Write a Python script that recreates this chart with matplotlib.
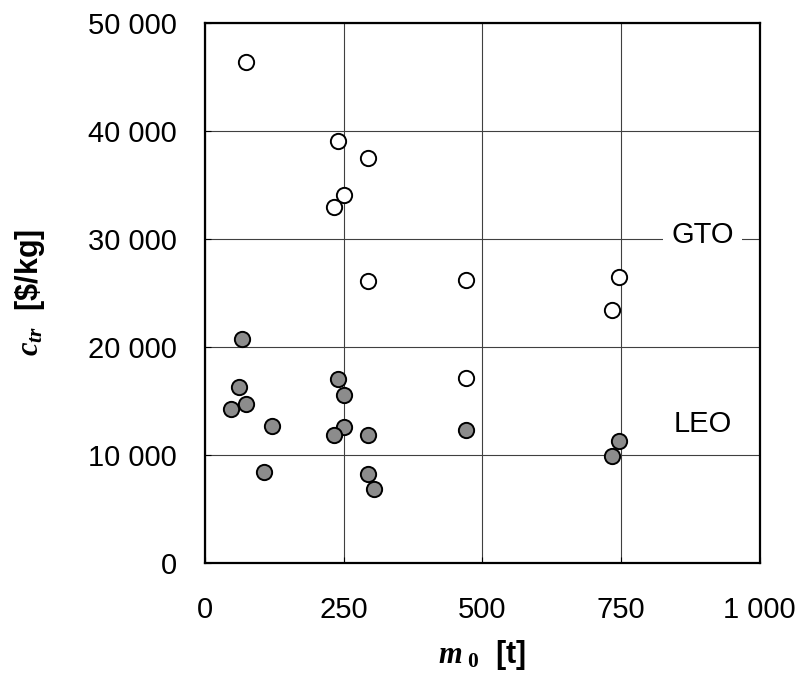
import matplotlib
matplotlib.use("Agg")
import matplotlib.pyplot as plt

plt.rcParams['font.family'] = ['Liberation Sans', 'DejaVu Sans']
plt.rcParams['mathtext.fontset'] = 'custom'
plt.rcParams['mathtext.it'] = 'Liberation Serif:italic:bold'
plt.rcParams['mathtext.rm'] = 'Liberation Serif:bold'
plt.rcParams['mathtext.bf'] = 'Liberation Serif:bold'

# GTO (open circles)
gto_m0 = [73, 240, 294, 250, 232, 293, 470, 746, 733, 471]
gto_ctr = [46400, 39100, 37500, 34100, 33000, 26100, 26200, 26500, 23400, 17150]

# LEO (filled circles)
leo_m0 = [66, 61, 73, 47, 121, 107, 240, 250, 250, 232, 293, 294, 305, 470, 746, 733]
leo_ctr = [20700, 16300, 14700, 14250, 12650, 8400, 17000, 15500, 12550, 11800,
           11850, 8200, 6800, 12300, 11300, 9900]

x_ticks = [0, 250, 500, 750, 1000]
x_ticklabels = ["0", "250", "500", "750", "1 000"]
y_ticks = [0, 10000, 20000, 30000, 40000, 50000]
y_ticklabels = ["0", "10 000", "20 000", "30 000", "40 000", "50 000"]

fig = plt.figure(figsize=(8.04, 6.77), dpi=100)
ax = fig.add_axes([0.255, 0.1688, 0.69, 0.7972])

ax.set_xlim(0, 1000)
ax.set_ylim(0, 50000)
ax.set_xticks(x_ticks)
ax.set_xticklabels(x_ticklabels)
ax.set_yticks(y_ticks)
ax.set_yticklabels(y_ticklabels)
ax.grid(True, color='0.25', linewidth=0.8, zorder=0)
ax.set_axisbelow(True)
ax.tick_params(direction='in', length=4, width=0.8, labelsize=21)
ax.tick_params(axis='x', pad=24)
ax.tick_params(axis='y', pad=20)
for s in ax.spines.values():
    s.set_linewidth(1.6)

ax.plot(gto_m0, gto_ctr, linestyle='none', marker='o', markersize=11,
        markerfacecolor='white', markeredgecolor='black', markeredgewidth=1.4, zorder=3)
ax.plot(leo_m0, leo_ctr, linestyle='none', marker='o', markersize=11,
        markerfacecolor='#8c8c8c', markeredgecolor='black', markeredgewidth=1.4, zorder=3)

ax.text(897, 30370, "GTO", fontsize=21, ha='center', va='center', zorder=2,
        bbox=dict(facecolor='white', edgecolor='none', pad=6))
ax.text(897, 12850, "LEO", fontsize=21, ha='center', va='center', zorder=2)

ax.set_xlabel(r"$m_{\ \mathit{0}}$  [t]", fontsize=22, fontweight='bold', labelpad=10)
ax.set_ylabel(r"$c_{\mathit{tr}}$  [\$/kg]", fontsize=22, fontweight='bold', labelpad=30)

fig.savefig("out.png", dpi=100)
